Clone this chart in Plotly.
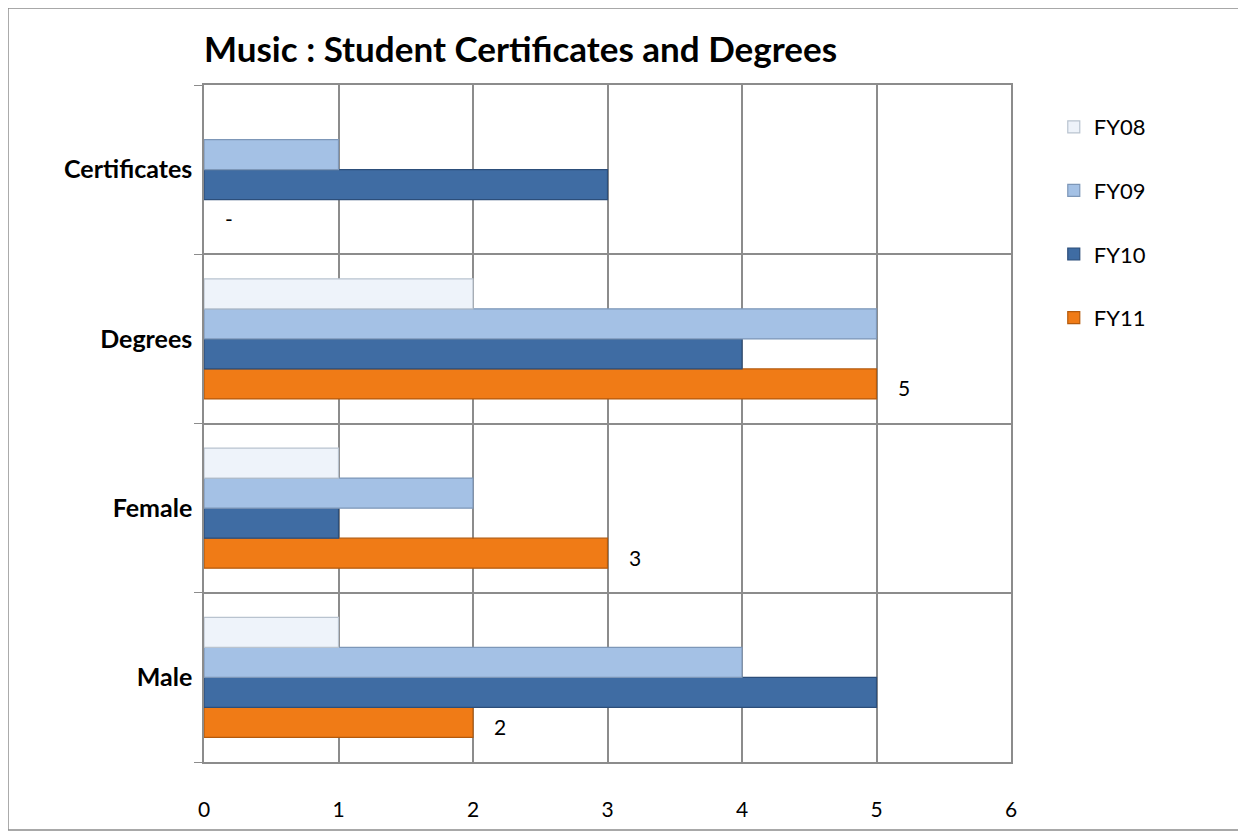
import plotly.graph_objects as go

# categories bottom to top
categories = ['Male', 'Female', 'Degrees', 'Certificates']
years = ['FY08', 'FY09', 'FY10', 'FY11']

fy08 = [1, 1, 2, 0]
fy09 = [4, 2, 5, 1]
fy10 = [5, 1, 4, 3]
fy11 = [2, 3, 5, 0]
fy11_labels = ['2', '3', '5', '-']

x_ticks = [0, 1, 2, 3, 4, 5, 6]

colors = {
    'FY08': ('#eef3fa', '#b9c3cf'),
    'FY09': ('#a4c1e5', '#7d97b8'),
    'FY10': ('#3f6ca3', '#2c4e7a'),
    'FY11': ('#f07b16', '#b45a0c'),
}
series = {'FY08': fy08, 'FY09': fy09, 'FY10': fy10, 'FY11': fy11}
FONT = 'Lato, Open Sans, sans-serif'

fig = go.Figure()

# plotly puts the first trace at the bottom of each group, so add FY11 first
for name in reversed(years):
    fill, edge = colors[name]
    vals = series[name]
    fig.add_trace(go.Bar(
        y=categories,
        x=vals,
        name=name,
        orientation='h',
        legendrank=years.index(name) + 1,
        legendgroup=name,
        marker=dict(color=fill,
                    line=dict(color=edge, width=[1.2 if v else 0 for v in vals])),
        hoverinfo='x+name',
    ))

# FY11 value labels to the right of the bars
for cat, val, lab in zip(categories, fy11, fy11_labels):
    fig.add_annotation(
        x=val, y=cat, text=lab, showarrow=False,
        xanchor='left', xshift=19, yshift=-49,
        font=dict(family=FONT, size=21, color='#000000'),
    )

# outer chart border
fig.add_shape(type='rect', xref='paper', yref='paper',
              x0=-0.2429, x1=1.2838, y0=-0.1004, y1=1.1137,
              line=dict(color='#8c8c8c', width=1.5))

fig.update_layout(
    width=1246, height=838,
    paper_bgcolor='white', plot_bgcolor='white',
    margin=dict(l=196, r=243, t=77, b=84),
    barmode='group', bargap=0.29, bargroupgap=0,
    font=dict(family=FONT, size=21, color='#000000'),
    title=dict(
        text='<b>Music : Student Certificates and Degrees</b>',
        x=0.0, xref='paper', xanchor='left',
        y=1 - 42 / 838, yref='container', yanchor='middle',
        font=dict(size=35, color='#000000'),
    ),
    xaxis=dict(
        range=[0, 6], tickvals=x_ticks, ticks='',
        showgrid=True, gridcolor='#8c8c8c', gridwidth=1.5,
        showline=True, linecolor='#8c8c8c', linewidth=1.5, mirror=True,
        zeroline=False, tickfont=dict(size=21), ticklabelstandoff=28,
    ),
    yaxis=dict(
        type='category', categoryorder='array', categoryarray=categories,
        tickson='boundaries', ticks='outside', ticklen=8, tickcolor='#8c8c8c',
        showgrid=True, gridcolor='#8c8c8c', gridwidth=1.5,
        showline=True, linecolor='#8c8c8c', linewidth=1.5, mirror=True,
        tickfont=dict(size=25, family=FONT),
        ticklabelstandoff=5,
    ),
    legend=dict(
        x=1.053, y=0.969, xanchor='left', yanchor='top',
        traceorder='grouped', tracegroupgap=32,
        font=dict(size=22), itemwidth=30,
    ),
)

# bold category labels
fig.update_yaxes(ticktext=['<b>%s</b>' % c for c in categories], tickvals=categories)

fig.write_html('out.html')
